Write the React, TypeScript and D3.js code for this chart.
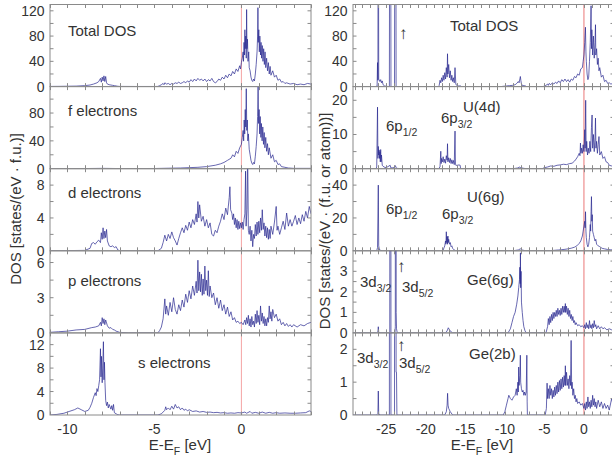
import { useEffect, useRef } from "react";
import * as d3 from "d3";

type Pt = [number, number];
type Part = [string, boolean];

// energies (eV) and DOS values
const leftTotal: Pt[] = [[-11,0.3],[-10.5,0.4],[-10,0.6],[-9.5,0.8],[-9,1.5],[-8.7,2.5],[-8.5,4],[-8.3,6],[-8.2,8],[-8.1,13],[-8.05,7],[-8.0,15],[-7.95,9],[-7.9,17],[-7.85,8],[-7.8,16],[-7.75,6],[-7.7,4],[-7.6,3],[-7.5,2.5],[-7.4,2],[-7.3,1.5],[-7.2,1],[-7.1,0.5],[-7,0.3],[-6,0.2],[-5,0.2],[-4.8,0.3],[-4.7,1.5],[-4.6,3],[-4.5,5],[-4.45,3],[-4.4,6],[-4.3,4],[-4.2,5],[-4.1,3],[-4.0,5],[-3.9,4],[-3.8,6],[-3.7,5],[-3.6,7],[-3.5,5],[-3.4,6],[-3.3,8],[-3.2,6],[-3.1,9],[-3.0,7],[-2.9,11],[-2.8,8],[-2.7,12],[-2.6,9],[-2.5,13],[-2.4,10],[-2.3,12],[-2.2,9],[-2.1,12],[-2.0,8],[-1.9,11],[-1.8,9],[-1.7,13],[-1.6,8],[-1.5,6],[-1.4,8],[-1.3,12],[-1.2,10],[-1.1,15],[-1.0,12],[-0.9,18],[-0.8,14],[-0.7,20],[-0.6,17],[-0.5,24],[-0.4,20],[-0.3,28],[-0.2,24],[-0.1,33],[-0.05,28],[0,38],[0.05,45],[0.1,55],[0.12,40],[0.15,70],[0.18,50],[0.2,90],[0.22,60],[0.25,80],[0.28,45],[0.3,122],[0.32,60],[0.35,75],[0.38,40],[0.42,55],[0.45,30],[0.5,25],[0.55,15],[0.6,10],[0.65,8],[0.7,12],[0.75,9],[0.8,20],[0.85,35],[0.9,55],[0.93,80],[0.95,125],[0.97,70],[1.0,90],[1.03,55],[1.06,80],[1.1,50],[1.13,70],[1.16,45],[1.2,65],[1.24,40],[1.28,60],[1.32,35],[1.36,55],[1.4,30],[1.45,45],[1.5,25],[1.55,38],[1.6,20],[1.65,32],[1.7,18],[1.8,25],[1.9,15],[2.0,18],[2.1,10],[2.2,12],[2.3,7],[2.4,8],[2.5,5],[2.6,6],[2.8,4],[3.0,5],[3.2,3],[3.4,4],[3.6,3],[3.8,5],[4,4]];

const leftF: Pt[] = [[-11,0],[-9,0.2],[-8,0.5],[-7,0.2],[-5,0.3],[-4,0.8],[-3.5,1],[-3,1.5],[-2.5,2],[-2,3],[-1.5,5],[-1.2,7],[-1,9],[-0.8,12],[-0.6,15],[-0.5,20],[-0.4,17],[-0.3,25],[-0.2,22],[-0.1,30],[0,35],[0.05,45],[0.1,55],[0.13,40],[0.16,70],[0.19,50],[0.22,85],[0.25,60],[0.28,115],[0.31,55],[0.34,70],[0.37,40],[0.4,50],[0.45,28],[0.5,20],[0.55,12],[0.6,8],[0.65,6],[0.7,9],[0.75,7],[0.8,18],[0.85,32],[0.9,50],[0.93,75],[0.96,118],[0.99,65],[1.02,85],[1.05,50],[1.08,75],[1.12,45],[1.15,65],[1.19,40],[1.23,60],[1.27,35],[1.31,52],[1.35,30],[1.4,45],[1.45,25],[1.5,36],[1.55,20],[1.6,30],[1.7,15],[1.8,20],[1.9,10],[2.0,12],[2.1,6],[2.2,7],[2.3,3],[2.5,2],[2.7,1],[3,0.5],[4,0.5]];

const leftD: Pt[] = [[-11,0],[-9,0.05],[-8.7,0.3],[-8.6,0.9],[-8.5,1.0],[-8.4,0.8],[-8.3,1.1],[-8.2,1.3],[-8.1,1.0],[-8.05,2.2],[-8.0,1.4],[-7.95,2.8],[-7.9,1.5],[-7.85,2.4],[-7.8,1.6],[-7.75,2.6],[-7.7,1.2],[-7.6,0.6],[-7.5,0.5],[-7.4,0.6],[-7.3,0.4],[-7.2,0.5],[-7.1,0.1],[-7,0],[-4.8,0],[-4.6,0.3],[-4.5,1.0],[-4.4,1.9],[-4.3,1.2],[-4.2,2.0],[-4.1,1.5],[-4.0,2.3],[-3.9,1.6],[-3.8,1.2],[-3.7,0.7],[-3.6,1.5],[-3.5,2.2],[-3.4,2.8],[-3.3,2.2],[-3.2,3.1],[-3.1,2.5],[-3.0,3.5],[-2.9,2.8],[-2.8,3.8],[-2.7,3.2],[-2.6,4.5],[-2.55,3.5],[-2.5,6.0],[-2.45,4.0],[-2.4,5.6],[-2.3,3.6],[-2.2,4.2],[-2.1,3.0],[-2.0,3.8],[-1.9,2.8],[-1.8,3.4],[-1.7,2.0],[-1.6,1.8],[-1.5,2.5],[-1.4,2.2],[-1.3,3.0],[-1.2,3.6],[-1.1,4.5],[-1.0,3.8],[-0.9,5.2],[-0.8,4.4],[-0.7,6.5],[-0.66,7.8],[-0.62,5.0],[-0.55,4.6],[-0.5,3.8],[-0.45,4.5],[-0.4,3.2],[-0.35,4.0],[-0.3,2.8],[-0.25,3.8],[-0.2,2.6],[-0.15,3.6],[-0.1,2.7],[-0.05,3.4],[0,2.8],[0.05,3.5],[0.1,2.6],[0.15,3.8],[0.2,4.5],[0.24,9.7],[0.27,3.0],[0.32,5.0],[0.36,12],[0.4,2.5],[0.45,2.0],[0.5,3.0],[0.55,1.2],[0.6,2.5],[0.65,0.5],[0.7,2.0],[0.75,1.5],[0.8,3.2],[0.85,1.8],[0.9,3.5],[0.95,2.0],[1.0,3.6],[1.05,2.2],[1.1,4.0],[1.15,2.5],[1.2,5.0],[1.25,2.6],[1.3,3.4],[1.35,1.8],[1.4,3.0],[1.45,1.6],[1.5,2.8],[1.55,1.4],[1.6,2.6],[1.65,1.5],[1.7,3.0],[1.8,2.0],[1.9,3.5],[2.0,5.4],[2.05,2.5],[2.1,3.0],[2.2,2.0],[2.3,2.8],[2.4,3.6],[2.5,2.6],[2.6,4.6],[2.7,3.0],[2.8,3.8],[2.9,3.0],[3.0,3.6],[3.1,4.3],[3.2,3.2],[3.3,4.0],[3.4,3.3],[3.5,4.4],[3.6,3.6],[3.7,4.8],[3.8,4.0],[3.9,5.4],[4.0,4.5]];

const leftP: Pt[] = [[-11,0.05],[-10.5,0.1],[-10,0.15],[-9.5,0.25],[-9,0.3],[-8.6,0.45],[-8.4,0.5],[-8.2,0.6],[-8.1,0.9],[-8.05,0.6],[-8.0,1.3],[-7.95,0.8],[-7.9,1.2],[-7.85,0.7],[-7.8,1.1],[-7.7,0.6],[-7.6,0.4],[-7.5,0.45],[-7.4,0.3],[-7.3,0.25],[-7.2,0.15],[-7.0,0.05],[-6.5,0],[-4.8,0],[-4.7,0.2],[-4.6,0.5],[-4.5,1.2],[-4.4,2.9],[-4.35,1.6],[-4.3,2.3],[-4.2,1.5],[-4.1,2.6],[-4.0,1.8],[-3.9,3.0],[-3.8,2.0],[-3.7,1.6],[-3.6,2.4],[-3.5,1.9],[-3.4,2.8],[-3.3,2.2],[-3.2,3.3],[-3.1,2.6],[-3.0,3.6],[-2.9,2.9],[-2.8,4.0],[-2.7,3.2],[-2.6,4.4],[-2.55,3.4],[-2.5,6.2],[-2.45,3.6],[-2.4,5.2],[-2.35,3.5],[-2.3,5.0],[-2.25,3.2],[-2.2,4.6],[-2.15,3.3],[-2.1,5.7],[-2.05,3.6],[-2.0,4.5],[-1.95,3.2],[-1.9,5.3],[-1.85,3.1],[-1.8,4.0],[-1.7,3.0],[-1.6,3.4],[-1.5,2.4],[-1.4,3.0],[-1.3,2.1],[-1.2,2.8],[-1.1,1.9],[-1.0,2.4],[-0.9,1.6],[-0.8,2.2],[-0.7,1.4],[-0.6,1.8],[-0.5,1.1],[-0.4,1.3],[-0.3,0.9],[-0.2,1.0],[-0.1,0.8],[0,0.9],[0.1,0.7],[0.2,1.1],[0.25,0.7],[0.3,1.3],[0.35,0.8],[0.4,1.5],[0.45,0.6],[0.5,1.2],[0.55,0.5],[0.6,1.4],[0.65,0.7],[0.7,1.0],[0.75,0.5],[0.8,1.6],[0.85,0.8],[0.9,1.9],[0.95,0.9],[1.0,1.5],[1.05,0.7],[1.1,2.3],[1.15,1.0],[1.2,1.7],[1.25,0.8],[1.3,1.4],[1.35,0.6],[1.4,1.2],[1.45,0.6],[1.5,1.3],[1.55,0.9],[1.6,2.3],[1.65,1.2],[1.7,1.8],[1.75,1.0],[1.8,2.0],[1.9,1.3],[2.0,1.6],[2.1,1.0],[2.2,1.2],[2.3,0.7],[2.4,0.9],[2.5,0.6],[2.6,0.8],[2.7,0.55],[2.8,0.7],[2.9,0.5],[3.0,0.7],[3.2,0.5],[3.4,0.7],[3.6,0.6],[3.8,0.8],[4,0.9]];

const leftS: Pt[] = [[-11,0],[-10.6,0.1],[-10.2,0.3],[-9.9,0.6],[-9.6,0.9],[-9.4,1.2],[-9.2,0.9],[-9.0,0.6],[-8.8,0.8],[-8.7,1.3],[-8.6,2.0],[-8.5,3.0],[-8.4,3.8],[-8.35,3.3],[-8.3,4.5],[-8.25,4.0],[-8.2,5.0],[-8.15,6.0],[-8.1,11.3],[-8.07,6.5],[-8.04,10],[-8.0,5.5],[-7.97,8],[-7.93,12.5],[-7.9,6],[-7.87,9],[-7.84,5.5],[-7.8,2.5],[-7.75,1.6],[-7.7,2.2],[-7.65,1.2],[-7.6,1.8],[-7.5,1.0],[-7.45,1.6],[-7.4,0.8],[-7.35,1.8],[-7.3,0.4],[-7.2,0.2],[-7.1,0.05],[-7,0],[-4.8,0],[-4.6,0.2],[-4.4,0.8],[-4.35,1.4],[-4.3,0.9],[-4.2,1.2],[-4.1,0.9],[-4.0,1.5],[-3.9,1.0],[-3.8,1.8],[-3.7,1.2],[-3.6,1.4],[-3.5,0.9],[-3.4,1.2],[-3.3,0.8],[-3.2,1.0],[-3.1,0.7],[-3.0,0.9],[-2.8,0.6],[-2.6,0.7],[-2.4,0.5],[-2.2,0.6],[-2.0,0.45],[-1.8,0.5],[-1.6,0.4],[-1.4,0.45],[-1.2,0.35],[-1.0,0.4],[-0.8,0.3],[-0.6,0.35],[-0.4,0.3],[-0.2,0.4],[0,0.35],[0.2,0.5],[0.3,0.3],[0.5,0.6],[0.6,0.3],[0.8,0.45],[1.0,0.3],[1.2,0.5],[1.4,0.3],[1.6,0.45],[1.8,0.3],[2.0,0.4],[2.2,0.3],[2.5,0.35],[2.8,0.3],[3.1,0.3],[3.4,0.35],[3.7,0.4],[3.9,0.7],[4,0.6]];

const rightTotal: Pt[] = [[-29.2,0],[-26.3,0],[-26.15,1],[-26.1,38],[-26.05,10],[-26.0,500],[-25.95,12],[-25.8,8],[-25.7,11],[-25.6,6],[-25.5,9],[-25.4,3],[-25.2,1],[-25,0.5],[-24.6,0],[-24.55,500],[-24.45,500],[-24.4,0],[-23.95,0],[-23.9,500],[-23.8,500],[-23.75,0],[-23,0],[-20,0],[-18.4,0],[-18.3,2],[-18.2,10],[-18.1,6],[-18,14],[-17.9,8],[-17.8,18],[-17.7,10],[-17.6,22],[-17.5,12],[-17.4,30],[-17.3,15],[-17.25,52],[-17.2,20],[-17.1,35],[-17.0,14],[-16.9,25],[-16.8,10],[-16.7,18],[-16.6,8],[-16.5,14],[-16.4,6],[-16.3,30],[-16.2,4],[-16.1,2],[-16,1],[-15.6,1],[-15.5,0],[-10.5,0],[-10.2,0.5],[-9.8,1],[-9.4,1.5],[-9,2],[-8.7,3],[-8.5,5],[-8.3,8],[-8.2,6],[-8.1,12],[-8.04,16],[-7.98,10],[-7.9,4],[-7.8,2],[-7.6,1.5],[-7.4,1],[-7.3,0],[-5.3,0],[-5.0,0.5],[-4.8,2],[-4.6,4],[-4.5,2],[-4.4,5],[-4.2,3],[-4.0,6],[-3.8,4],[-3.6,7],[-3.4,5],[-3.2,9],[-3.0,6],[-2.8,11],[-2.6,8],[-2.4,12],[-2.2,8],[-2.0,11],[-1.8,7],[-1.6,12],[-1.4,10],[-1.2,16],[-1.0,14],[-0.8,20],[-0.6,18],[-0.4,28],[-0.2,30],[-0.1,40],[0,50],[0.1,70],[0.19,94],[0.25,55],[0.3,40],[0.4,20],[0.5,11],[0.6,15],[0.7,40],[0.8,70],[0.9,128],[0.95,60],[1.0,90],[1.1,50],[1.2,80],[1.3,45],[1.4,70],[1.46,98],[1.5,50],[1.6,60],[1.7,35],[1.8,45],[1.9,25],[2.0,30],[2.2,15],[2.4,18],[2.6,8],[2.8,10],[3.0,5],[3.2,6],[3.4,4],[3.7,5]];

const rightU4d: Pt[] = [[-29.2,0],[-26.3,0],[-26.2,0.5],[-26.1,18],[-26.05,3],[-26.0,6.5],[-25.95,4],[-25.9,5.5],[-25.85,3],[-25.8,5],[-25.75,2],[-25.7,5.6],[-25.65,2],[-25.6,4],[-25.5,1],[-25.3,0.5],[-25.0,0.3],[-24.5,1],[-24.4,0.2],[-24.0,0.3],[-23.85,0.9],[-23.7,0.1],[-23,0],[-18.4,0],[-18.2,0.5],[-18.1,5.1],[-18.05,1.5],[-18.0,3],[-17.9,2],[-17.8,3.5],[-17.7,1.8],[-17.6,2.8],[-17.5,1.6],[-17.4,3.8],[-17.3,2.5],[-17.25,7.3],[-17.2,2],[-17.1,3.2],[-17.0,1.8],[-16.9,3],[-16.8,1.5],[-16.7,2.6],[-16.6,1.5],[-16.5,2.4],[-16.4,1.2],[-16.3,11],[-16.25,1.2],[-16.2,1.0],[-16.0,1.0],[-15.8,1.1],[-15.65,1.0],[-15.6,0],[-9,0],[-8.4,0.2],[-8.1,0.5],[-8.0,0.3],[-7.6,0.1],[-7.3,0],[-5.3,0],[-5.0,0.3],[-4.6,0.5],[-4.2,0.8],[-3.8,0.7],[-3.4,1.0],[-3.0,1.1],[-2.6,1.3],[-2.2,1.2],[-1.8,1.5],[-1.5,1.6],[-1.2,2.2],[-1.0,2.8],[-0.8,3.5],[-0.6,4.5],[-0.5,3.8],[-0.44,7.5],[-0.38,4.5],[-0.3,6],[-0.2,4.5],[-0.1,7],[0,5],[0.1,11.4],[0.15,6],[0.22,20],[0.28,5],[0.35,8],[0.45,4],[0.55,6],[0.65,4.5],[0.75,8],[0.85,5],[0.95,12],[1.03,15.7],[1.1,6],[1.2,10],[1.3,5],[1.4,9],[1.46,14.8],[1.52,6],[1.6,8],[1.7,4.5],[1.8,7],[1.9,9.4],[2.0,4],[2.2,5],[2.4,3],[2.6,3.5],[2.8,2],[3.0,1.8],[3.2,1],[3.5,0.8],[3.7,0.7]];

const rightU6g: Pt[] = [[-29.2,0],[-26.2,0],[-26.1,2],[-26.0,40],[-25.95,3],[-25.85,0.5],[-25.5,0],[-18,0],[-17.8,0.5],[-17.6,3],[-17.5,6],[-17.45,4],[-17.4,11.6],[-17.35,5],[-17.3,8.5],[-17.25,4],[-17.2,9],[-17.15,5],[-17.1,7],[-17.0,4],[-16.9,5],[-16.8,2.5],[-16.7,3],[-16.6,1.5],[-16.4,0.5],[-16.2,0],[-9,0],[-8.3,0.5],[-8.05,1.2],[-7.8,0.5],[-7.4,0],[-5,0],[-4,0.2],[-3.2,0.5],[-2.8,0.7],[-2.4,0.9],[-2.0,1.2],[-1.6,1.6],[-1.2,2.2],[-0.9,3],[-0.6,4.5],[-0.4,6],[-0.2,9],[-0.1,12],[0,15],[0.1,18],[0.15,14],[0.2,23.8],[0.25,12],[0.3,8],[0.4,4],[0.5,2.4],[0.6,4],[0.7,8],[0.8,16],[0.85,12],[0.9,24],[0.95,33],[1.0,18],[1.05,22],[1.1,12],[1.2,10],[1.3,8],[1.4,6],[1.5,7],[1.6,4],[1.8,3],[2.0,2.5],[2.3,1.5],[2.6,1.2],[3.0,0.8],[3.4,0.6],[3.7,0.6]];

const rightGe6g: Pt[] = [[-29.2,0],[-26.2,0],[-26.05,0.05],[-26.0,0.3],[-25.95,0.05],[-25.8,0],[-24.55,0],[-24.5,50],[-24.45,50],[-24.4,0],[-23.9,0],[-23.85,0.3],[-23.82,50],[-23.77,50],[-23.74,1.0],[-23.7,0.2],[-23.6,0],[-17.5,0],[-17.3,0.1],[-17.15,0.25],[-17.0,0.15],[-16.8,0.05],[-16.6,0],[-9.6,0],[-9.3,0.2],[-9.1,0.5],[-8.9,0.8],[-8.7,1.0],[-8.5,1.4],[-8.35,1.8],[-8.25,2.2],[-8.15,2.6],[-8.1,3.2],[-8.06,2.4],[-8.03,3.9],[-8.0,2.2],[-7.95,3.0],[-7.9,1.5],[-7.8,1.0],[-7.7,0.6],[-7.6,0.3],[-7.45,0.1],[-7.3,0],[-4.8,0],[-4.6,0.3],[-4.5,0.7],[-4.4,0.4],[-4.3,0.8],[-4.2,0.5],[-4.1,0.9],[-4.0,0.6],[-3.9,1.0],[-3.8,0.7],[-3.7,1.0],[-3.6,0.8],[-3.5,1.1],[-3.4,0.8],[-3.3,1.2],[-3.2,0.9],[-3.1,1.1],[-3.0,0.85],[-2.9,1.2],[-2.8,0.9],[-2.7,1.3],[-2.6,1.0],[-2.5,1.3],[-2.4,1.0],[-2.35,1.43],[-2.3,1.0],[-2.2,1.3],[-2.1,0.9],[-2.0,1.2],[-1.9,0.8],[-1.8,1.1],[-1.7,0.7],[-1.6,0.9],[-1.5,0.6],[-1.4,0.8],[-1.3,0.5],[-1.2,0.6],[-1.1,0.4],[-1.0,0.5],[-0.8,0.35],[-0.6,0.4],[-0.4,0.3],[-0.2,0.35],[0,0.25],[0.1,0.4],[0.2,0.2],[0.3,0.5],[0.4,0.25],[0.5,0.4],[0.6,0.2],[0.7,0.6],[0.8,0.25],[0.9,0.4],[1.0,0.2],[1.1,0.45],[1.2,0.25],[1.3,0.6],[1.4,0.3],[1.5,0.4],[1.6,0.2],[1.8,0.35],[2.0,0.2],[2.2,0.3],[2.4,0.2],[2.6,0.25],[2.9,0.15],[3.2,0.2],[3.5,0.15],[3.7,0.2]];

const rightGe2b: Pt[] = [[-29.2,0],[-26.2,0],[-26.05,0.05],[-26.0,0.73],[-25.95,0.05],[-25.8,0],[-24.6,0],[-24.55,30],[-24.45,30],[-24.4,0],[-23.95,0],[-23.9,30],[-23.8,30],[-23.75,1.3],[-23.7,1.3],[-23.65,0],[-17.6,0],[-17.4,0.1],[-17.3,0.3],[-17.24,0.66],[-17.18,0.3],[-17.1,0.2],[-16.9,0.1],[-16.6,0],[-10.2,0],[-10.0,0.1],[-9.8,0.3],[-9.6,0.5],[-9.5,0.6],[-9.3,0.5],[-9.1,0.45],[-8.9,0.55],[-8.7,0.6],[-8.55,0.8],[-8.45,0.6],[-8.35,1.0],[-8.3,0.7],[-8.25,1.46],[-8.2,0.9],[-8.1,1.2],[-8.04,1.82],[-8.0,1.0],[-7.9,0.8],[-7.8,0.7],[-7.7,0.75],[-7.6,0.6],[-7.5,0.7],[-7.4,0.6],[-7.3,0.7],[-7.22,1.82],[-7.18,0.4],[-7.15,0],[-4.9,0],[-4.75,0.2],[-4.66,0.97],[-4.6,0.5],[-4.5,0.8],[-4.4,0.5],[-4.3,0.9],[-4.2,0.6],[-4.1,0.8],[-4.0,0.5],[-3.9,0.75],[-3.8,0.55],[-3.7,0.85],[-3.6,0.6],[-3.5,0.9],[-3.4,0.65],[-3.3,1.0],[-3.2,0.7],[-3.1,1.05],[-3.0,0.75],[-2.9,1.1],[-2.8,0.8],[-2.7,1.15],[-2.6,0.85],[-2.5,1.2],[-2.4,0.9],[-2.35,1.5],[-2.3,0.9],[-2.2,1.3],[-2.1,0.9],[-2.0,1.1],[-1.9,0.8],[-1.8,1.2],[-1.7,0.9],[-1.62,2.27],[-1.55,0.8],[-1.5,1.0],[-1.4,0.6],[-1.3,0.8],[-1.2,0.5],[-1.1,0.6],[-1.0,0.4],[-0.9,0.5],[-0.8,0.35],[-0.6,0.4],[-0.4,0.3],[-0.2,0.35],[0,0.2],[0.1,0.35],[0.2,0.15],[0.3,0.4],[0.4,0.2],[0.5,0.55],[0.6,0.25],[0.7,0.4],[0.8,0.2],[0.9,0.45],[1.0,0.25],[1.1,0.6],[1.2,0.3],[1.3,0.5],[1.4,0.25],[1.5,0.4],[1.6,0.2],[1.8,0.45],[2.0,0.25],[2.2,0.4],[2.4,0.2],[2.6,0.35],[2.8,0.2],[3.0,0.3],[3.2,0.15],[3.5,0.5],[3.7,0.3]];

const leftXTicks = [-10, -5, 0];
const rightXTicks = [-25, -20, -15, -10, -5, 0];

const sub = (a: string, b: string, c = ""): Part[] => [[a, false], [b, true], [c, false]];
const plain = (a: string): Part[] => [[a, false]];

const leftPanels = [
  { data: leftTotal, max: 130, major: 40, minor: 20, labels: [{ t: plain("Total DOS"), x: 68, y: 36 }] },
  { data: leftF, max: 118, major: 40, minor: 20, labels: [{ t: plain("f electrons"), x: 68, y: 116 }] },
  { data: leftD, max: 10, major: 4, minor: 2, labels: [{ t: plain("d electrons"), x: 68, y: 198 }] },
  { data: leftP, max: 7, major: 3, minor: 1.5, labels: [{ t: plain("p electrons"), x: 68, y: 286 }] },
  { data: leftS, max: 14, major: 4, minor: 2, labels: [{ t: plain("s electrons"), x: 138, y: 368 }] },
];

const rightPanels = [
  { data: rightTotal, max: 130, major: 40, minor: 20, labels: [
    { t: plain("Total DOS"), x: 450, y: 31 },
    { t: plain("\u2191"), x: 399, y: 39, size: 17 },
  ] },
  { data: rightU4d, max: 24, major: 10, minor: 5, labels: [
    { t: plain("U(4d)"), x: 463, y: 112 },
    { t: sub("6p", "1/2"), x: 386, y: 131 },
    { t: sub("6p", "3/2"), x: 441, y: 123 },
  ] },
  { data: rightU6g, max: 50, major: 20, minor: 10, labels: [
    { t: plain("U(6g)"), x: 467, y: 202 },
    { t: sub("6p", "1/2"), x: 386, y: 214 },
    { t: sub("6p", "3/2"), x: 442, y: 219 },
  ] },
  { data: rightGe6g, max: 4, major: 1, minor: 0.5, labels: [
    { t: plain("Ge(6g)"), x: 467, y: 285 },
    { t: sub("3d", "3/2"), x: 360, y: 287 },
    { t: plain("\u2191"), x: 397, y: 272, size: 17 },
    { t: sub("3d", "5/2"), x: 402, y: 292 },
  ] },
  { data: rightGe2b, max: 2.5, major: 1, minor: 0.5, labels: [
    { t: plain("Ge(2b)"), x: 469, y: 359 },
    { t: sub("3d", "3/2"), x: 357, y: 363 },
    { t: plain("\u2191"), x: 397, y: 351, size: 17 },
    { t: sub("3d", "5/2"), x: 399, y: 368 },
  ] },
];

const FONT = "'Liberation Sans', Arial, Helvetica, sans-serif";

function richText(sel: any, x: number, y: number, parts: Part[], size: number, anchor = "start") {
  const t = sel.append("text").attr("x", x).attr("y", y).attr("text-anchor", anchor)
    .attr("font-family", FONT).attr("font-size", size).attr("fill", "#333");
  let down = false;
  parts.forEach(([s, isSub]) => {
    if (!s) return;
    const ts = t.append("tspan").text(s);
    if (isSub) ts.attr("font-size", size * 0.7);
    if (isSub && !down) ts.attr("dy", 5);
    if (!isSub && down) ts.attr("dy", -5);
    down = isSub;
  });
  return t;
}

export default function App() {
  const svgRef = useRef<SVGSVGElement>(null);

  useEffect(() => {
    const svg = d3.select(svgRef.current);
    svg.selectAll("*").remove();

    const top0 = 4.5;
    const ph = 82.1;
    const bottom = top0 + 5 * ph;

    const drawColumn = (key: string, xDomain: [number, number], xRange: [number, number],
      xTicks: number[], panels: any[], yLabX: number, titleX: number, fermiColor: string) => {
      const x = d3.scaleLinear().domain(xDomain).range(xRange);
      const minorX = d3.range(Math.ceil(xDomain[0]), Math.floor(xDomain[1]) + 1);

      panels.forEach((p, i) => {
        const y0 = top0 + i * ph;
        const y1 = y0 + ph;
        const y = d3.scaleLinear().domain([0, p.max]).range([y1, y0]);
        const g = svg.append("g");
        const clipId = `clip-${key}-${i}`;
        svg.append("clipPath").attr("id", clipId).append("rect")
          .attr("x", xRange[0]).attr("y", y0).attr("width", xRange[1] - xRange[0]).attr("height", ph);

        // Fermi level
        g.append("line").attr("x1", x(0)).attr("x2", x(0)).attr("y1", y0).attr("y2", y1)
          .attr("stroke", fermiColor).attr("stroke-width", 1);

        const line = d3.line<Pt>().x((d) => x(d[0])).y((d) => y(d[1]));
        g.append("path").datum(p.data).attr("d", line).attr("clip-path", `url(#${clipId})`)
          .attr("fill", "none").attr("stroke", "#26268f").attr("stroke-width", 0.7)
          .attr("stroke-linejoin", "round");

        // ticks
        const tk = g.append("g").attr("stroke", "#8a8a8a").attr("stroke-width", 1);
        minorX.forEach((v) => {
          const xx = Math.round(x(v)) + 0.5;
          tk.append("line").attr("x1", xx).attr("x2", xx).attr("y1", y1).attr("y2", y1 - 3.5);
          tk.append("line").attr("x1", xx).attr("x2", xx).attr("y1", y0).attr("y2", y0 + 3.5);
        });
        const minorY = d3.range(0, p.max + 1e-9, p.minor).filter((v) => v > 0 && v < p.max - 1e-6);
        minorY.forEach((v) => {
          tk.append("line").attr("x1", xRange[0]).attr("x2", xRange[0] + 3.5).attr("y1", y(v)).attr("y2", y(v));
          tk.append("line").attr("x1", xRange[1]).attr("x2", xRange[1] - 3.5).attr("y1", y(v)).attr("y2", y(v));
        });

        // frame
        g.append("rect").attr("x", xRange[0]).attr("y", y0).attr("width", xRange[1] - xRange[0]).attr("height", ph)
          .attr("fill", "none").attr("stroke", "#8a8a8a").attr("stroke-width", 1);

        // y tick labels
        d3.range(0, p.max + 1e-9, p.major).filter((v) => v < p.max - 1e-6).forEach((v) => {
          g.append("text").attr("x", yLabX).attr("y", y(v) + 5).attr("text-anchor", "end")
            .attr("font-family", FONT).attr("font-size", 14).attr("fill", "#333").text(String(v));
        });

        // panel labels
        p.labels.forEach((l: any) => richText(g, l.x, l.y, l.t, l.size || 15));
      });

      xTicks.forEach((v) => {
        svg.append("text").attr("x", x(v)).attr("y", bottom + 19).attr("text-anchor", "middle")
          .attr("font-family", FONT).attr("font-size", 14).attr("fill", "#333").text(String(v));
      });
      richText(svg, titleX, bottom + 35, [["E-E", false], ["F", true], [" [eV]", false]], 15, "middle");
    };

    drawColumn("l", [-11, 4], [50, 311], leftXTicks, leftPanels, 44.5, 180, "#f4a4a4");
    drawColumn("r", [-29.2, 3.8], [353, 614], rightXTicks, rightPanels, 347.5, 482, "#ea7878");

    richText(svg, 0, 0, plain("DOS [states/(eV \u00b7 f.u.)]"), 15, "middle")
      .attr("transform", "translate(21,209) rotate(-90)");
    richText(svg, 0, 0, plain("DOS [states/(eV \u00b7 (f.u. or atom))]"), 15, "middle")
      .attr("transform", "translate(330,221) rotate(-90)");
  }, []);

  return (
    <svg ref={svgRef} width={612} height={460}
      style={{ position: "absolute", left: 0, top: 0, background: "#fff" }} />
  );
}
